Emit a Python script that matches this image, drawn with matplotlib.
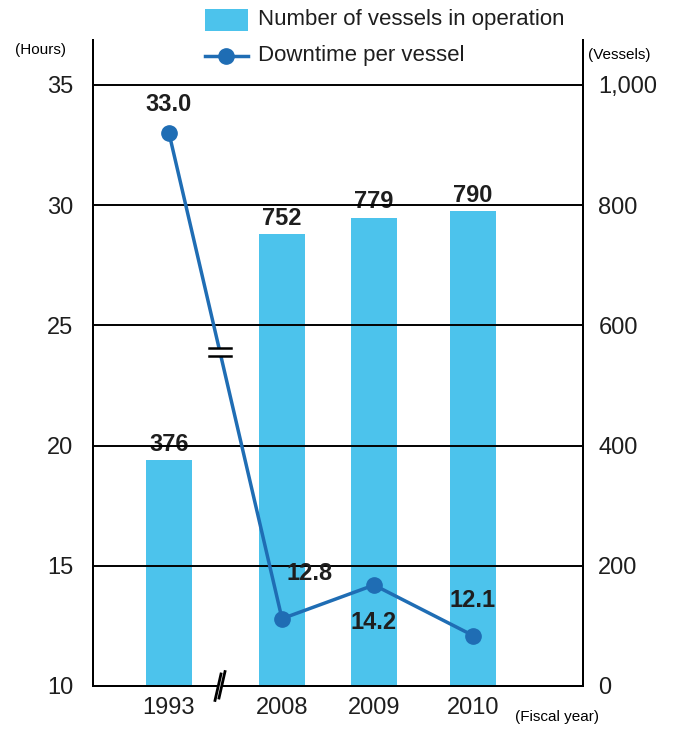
import matplotlib
matplotlib.use("Agg")
import matplotlib.pyplot as plt
from matplotlib.font_manager import fontManager

years = ["1993", "2008", "2009", "2010"]
vessels = [376, 752, 779, 790]
downtime = [33.0, 12.8, 14.2, 12.1]
left_ticks = [10, 15, 20, 25, 30, 35]
right_ticks = [0, 200, 400, 600, 800, 1000]
right_labels = ["0", "200", "400", "600", "800", "1,000"]

names = {f.name for f in fontManager.ttflist}
fam = "Liberation Sans Narrow" if "Liberation Sans Narrow" in names else "Liberation Sans"
plt.rcParams['font.family'] = [fam, 'DejaVu Sans']

bar_color = "#4cc3ec"
line_color = "#1f6db4"
txt_color = "#1e1e1e"

# layout positions (px in axis units)
xpos = [76, 189, 281, 380]
W, H = 673, 729
PPH = (686 - 85) / 25  # px per hour
fig = plt.figure(figsize=(W / 100, H / 100), dpi=100)
ax_l, ax_r, ax_b, ax_t = 93 / W, 583 / W, 1 - 686 / H, 1 - 40 / H
ax = fig.add_axes([ax_l, ax_b, ax_r - ax_l, ax_t - ax_b])
ax2 = ax.twinx()
ax.set_zorder(ax2.get_zorder() + 1)
ax.patch.set_visible(False)

ymax = 10 + (686 - 40) / PPH
ax.set_ylim(10, ymax)
ax2.set_ylim(0, (ymax - 10) / 25 * 1000)
ax.set_xlim(0, 490)

ax2.bar(xpos, vessels, width=46, color=bar_color, zorder=1)
for x, v in zip(xpos, vessels):
    ax2.text(x, v + 16 / PPH * 40, str(v), ha="center", va="center", fontsize=17,
             fontweight="bold", color=txt_color, zorder=5)

for y in [15, 20, 25, 30, 35]:
    ax.plot([0, 490], [y, y], color="black", lw=1.4, zorder=2)

ax.plot(xpos, downtime, color=line_color, lw=2.5, marker="o", ms=11,
        zorder=4, clip_on=False)

# label offsets in px (dx, dy up)
offs = [(0, 29), (28, 45), (0, -37), (0, 35)]
for x, v, (dx, dy) in zip(xpos, downtime, offs):
    ax.text(x + dx, v + dy / PPH, f"{v:.1f}", ha="center", va="center", fontsize=17,
            fontweight="bold", color=txt_color, zorder=6)

# break symbol on line
f = 0.45
bx = xpos[0] + f * (xpos[1] - xpos[0])
by = downtime[0] + f * (downtime[1] - downtime[0])
ax.add_patch(plt.Rectangle((bx - 10, by - 0.17), 20, 0.34, facecolor="white",
                           edgecolor="none", zorder=5))
ax.plot([bx - 11, bx + 11], [by + 0.17, by + 0.17], color="black", lw=1.8, zorder=6)
ax.plot([bx - 11, bx + 11], [by - 0.17, by - 0.17], color="black", lw=1.8, zorder=6)

# break on x axis
xb = 127
ax.add_patch(plt.Rectangle((xb - 3, 9.6), 6, 0.8, facecolor="white", edgecolor="none",
                           zorder=5, clip_on=False))
ax.plot([xb - 5, xb + 1], [9.4, 10.5], color="black", lw=2, zorder=6, clip_on=False)
ax.plot([xb - 1, xb + 5], [9.5, 10.6], color="black", lw=2, zorder=6, clip_on=False)

for a in (ax, ax2):
    a.spines["top"].set_visible(False)
    a.spines["left"].set_linewidth(1.4)
    a.spines["right"].set_linewidth(1.4)
    a.spines["bottom"].set_linewidth(1.4)

ax.set_yticks(left_ticks)
ax.set_yticklabels([str(t) for t in left_ticks], fontsize=17, color=txt_color)
ax2.set_yticks(right_ticks)
ax2.set_yticklabels(right_labels, fontsize=17, color=txt_color)
ax.tick_params(axis="y", length=0, pad=14)
ax2.tick_params(axis="y", length=0, pad=11)
ax.set_xticks(xpos)
ax.set_xticklabels(years, fontsize=17, color=txt_color)
ax.tick_params(axis="x", length=0, pad=8)

fig.text(15 / W, 1 - 50 / H, "(Hours)", fontsize=11, va="center", ha="left")
fig.text(588 / W, 1 - 55 / H, "(Vessels)", fontsize=11, va="center", ha="left")
fig.text(515 / W, 1 - 717 / H, "(Fiscal year)", fontsize=11, va="center", ha="left")

# legend
fig.patches.append(plt.Rectangle((205 / W, 1 - 31 / H), 43 / W, 22 / H,
                                 transform=fig.transFigure, facecolor=bar_color,
                                 edgecolor="none"))
fig.text(258 / W, 1 - 20 / H, "Number of vessels in operation", fontsize=16,
         va="center", ha="left", color=txt_color)
fig.add_artist(plt.Line2D([205 / W, 248 / W], [1 - 56 / H, 1 - 56 / H],
                          color=line_color, lw=2.5, transform=fig.transFigure))
fig.add_artist(plt.Line2D([226 / W], [1 - 56 / H], color=line_color, marker="o",
                          ms=11, transform=fig.transFigure))
fig.text(258 / W, 1 - 56 / H, "Downtime per vessel", fontsize=16,
         va="center", ha="left", color=txt_color)

fig.savefig("out.png", dpi=100)
